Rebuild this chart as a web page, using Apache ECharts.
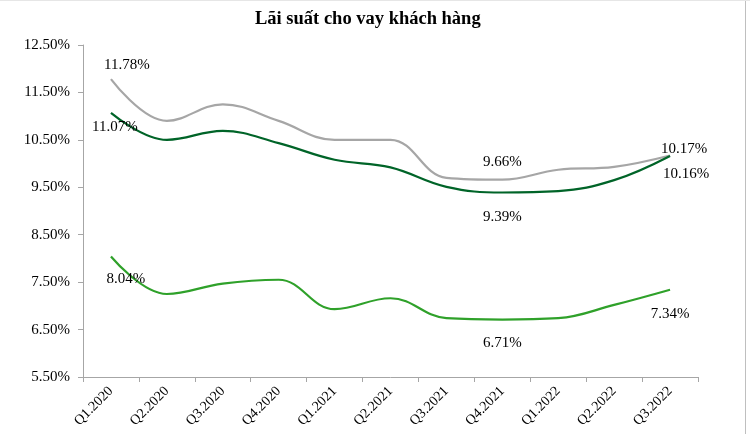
<!DOCTYPE html>
<html><head><meta charset="utf-8">
<script src="https://cdn.jsdelivr.net/npm/echarts@6/dist/echarts.min.js"></script>
<style>html,body{margin:0;padding:0;background:#fff}#c{width:750px;height:434px}</style>
</head><body><div id="c"></div>
<script>
const categories = ['Q1.2020','Q2.2020','Q3.2020','Q4.2020','Q1.2021','Q2.2021','Q3.2021','Q4.2021','Q1.2022','Q2.2022','Q3.2022'];
const grayValues = [11.78, 10.90, 11.25, 10.90, 10.50, 10.50, 9.70, 9.66, 9.87, 9.93, 10.17];
const darkValues = [11.07, 10.50, 10.69, 10.43, 10.08, 9.92, 9.51, 9.39, 9.42, 9.65, 10.16];
const lightValues = [8.04, 7.25, 7.47, 7.55, 6.93, 7.16, 6.74, 6.71, 6.74, 7.02, 7.34];
const yMin = 5.5, yMax = 12.5, yStep = 1;

const FONT = '"Liberation Serif", "DejaVu Serif", serif';
const labelStyle = {fontFamily: FONT, fontSize: 15, color: '#000'};

function withLabels(values, spec) {
  return values.map((v, i) => {
    if (!spec[i]) return {value: v};
    return {value: v, label: Object.assign({show: true, formatter: v.toFixed(2) + '%'}, labelStyle, spec[i])};
  });
}

const grayData = withLabels(grayValues, {
  0: {position: 'top', offset: [16, -1]},
  7: {position: 'top', offset: [0, -4]},
  10: {position: 'top', offset: [14, 7]}
});
const darkData = withLabels(darkValues, {
  0: {position: 'bottom', offset: [4, 1]},
  7: {position: 'bottom', offset: [0, 11]},
  10: {position: 'bottom', offset: [16, 5]}
});
const lightData = withLabels(lightValues, {
  0: {position: 'bottom', offset: [15, 9]},
  7: {position: 'bottom', offset: [0, 10]},
  10: {position: 'bottom', offset: [0, 11]}
});

function lineSeries(name, data, color, z) {
  return {
    name, type: 'line', data, smooth: 0.4,
    symbol: 'circle', symbolSize: 2, showSymbol: true,
    label: {show: false},
    lineStyle: {color, width: 2.2},
    itemStyle: {color: 'rgba(0,0,0,0)', borderWidth: 0},
    emphasis: {disabled: true},
    z
  };
}

const chart = echarts.init(document.getElementById('c'), null, {renderer: 'canvas'});
chart.setOption({
  animation: false,
  backgroundColor: '#fff',
  title: {
    text: 'Lãi suất cho vay khách hàng',
    left: 250, top: 5,
    textStyle: {fontFamily: FONT, fontSize: 18.5, fontWeight: 'bold', color: '#000'}
  },
  grid: {left: 83, right: 52, top: 45, bottom: 57},
  xAxis: {
    type: 'category',
    data: categories,
    boundaryGap: true,
    axisLine: {lineStyle: {color: '#A6A6A6', width: 1}},
    axisTick: {show: true, length: 5, alignWithLabel: false, lineStyle: {color: '#A6A6A6'}},
    axisLabel: {rotate: 45, fontFamily: FONT, fontSize: 14, color: '#000', margin: 12, interval: 0},
    splitLine: {show: false}
  },
  yAxis: {
    type: 'value',
    min: yMin, max: yMax, interval: yStep,
    axisLine: {show: true, lineStyle: {color: '#A6A6A6', width: 1}},
    axisTick: {show: true, length: 5, lineStyle: {color: '#A6A6A6'}},
    axisLabel: {fontFamily: FONT, fontSize: 15, color: '#000', margin: 13, formatter: v => v.toFixed(2) + '%'},
    splitLine: {show: false}
  },
  series: [
    lineSeries('Cao', grayData, '#A6A6A6', 2),
    lineSeries('Trung bình', darkData, '#006428', 3),
    lineSeries('Thấp', lightData, '#2FA12A', 3)
  ],
  graphic: [
    {type: 'line', shape: {x1: 745.5, y1: 0, x2: 745.5, y2: 434}, style: {stroke: '#BFBFBF', lineWidth: 1}},
    {type: 'line', shape: {x1: 0, y1: 0.5, x2: 750, y2: 0.5}, style: {stroke: '#E6E6E6', lineWidth: 1}}
  ]
});
</script>
</body></html>
